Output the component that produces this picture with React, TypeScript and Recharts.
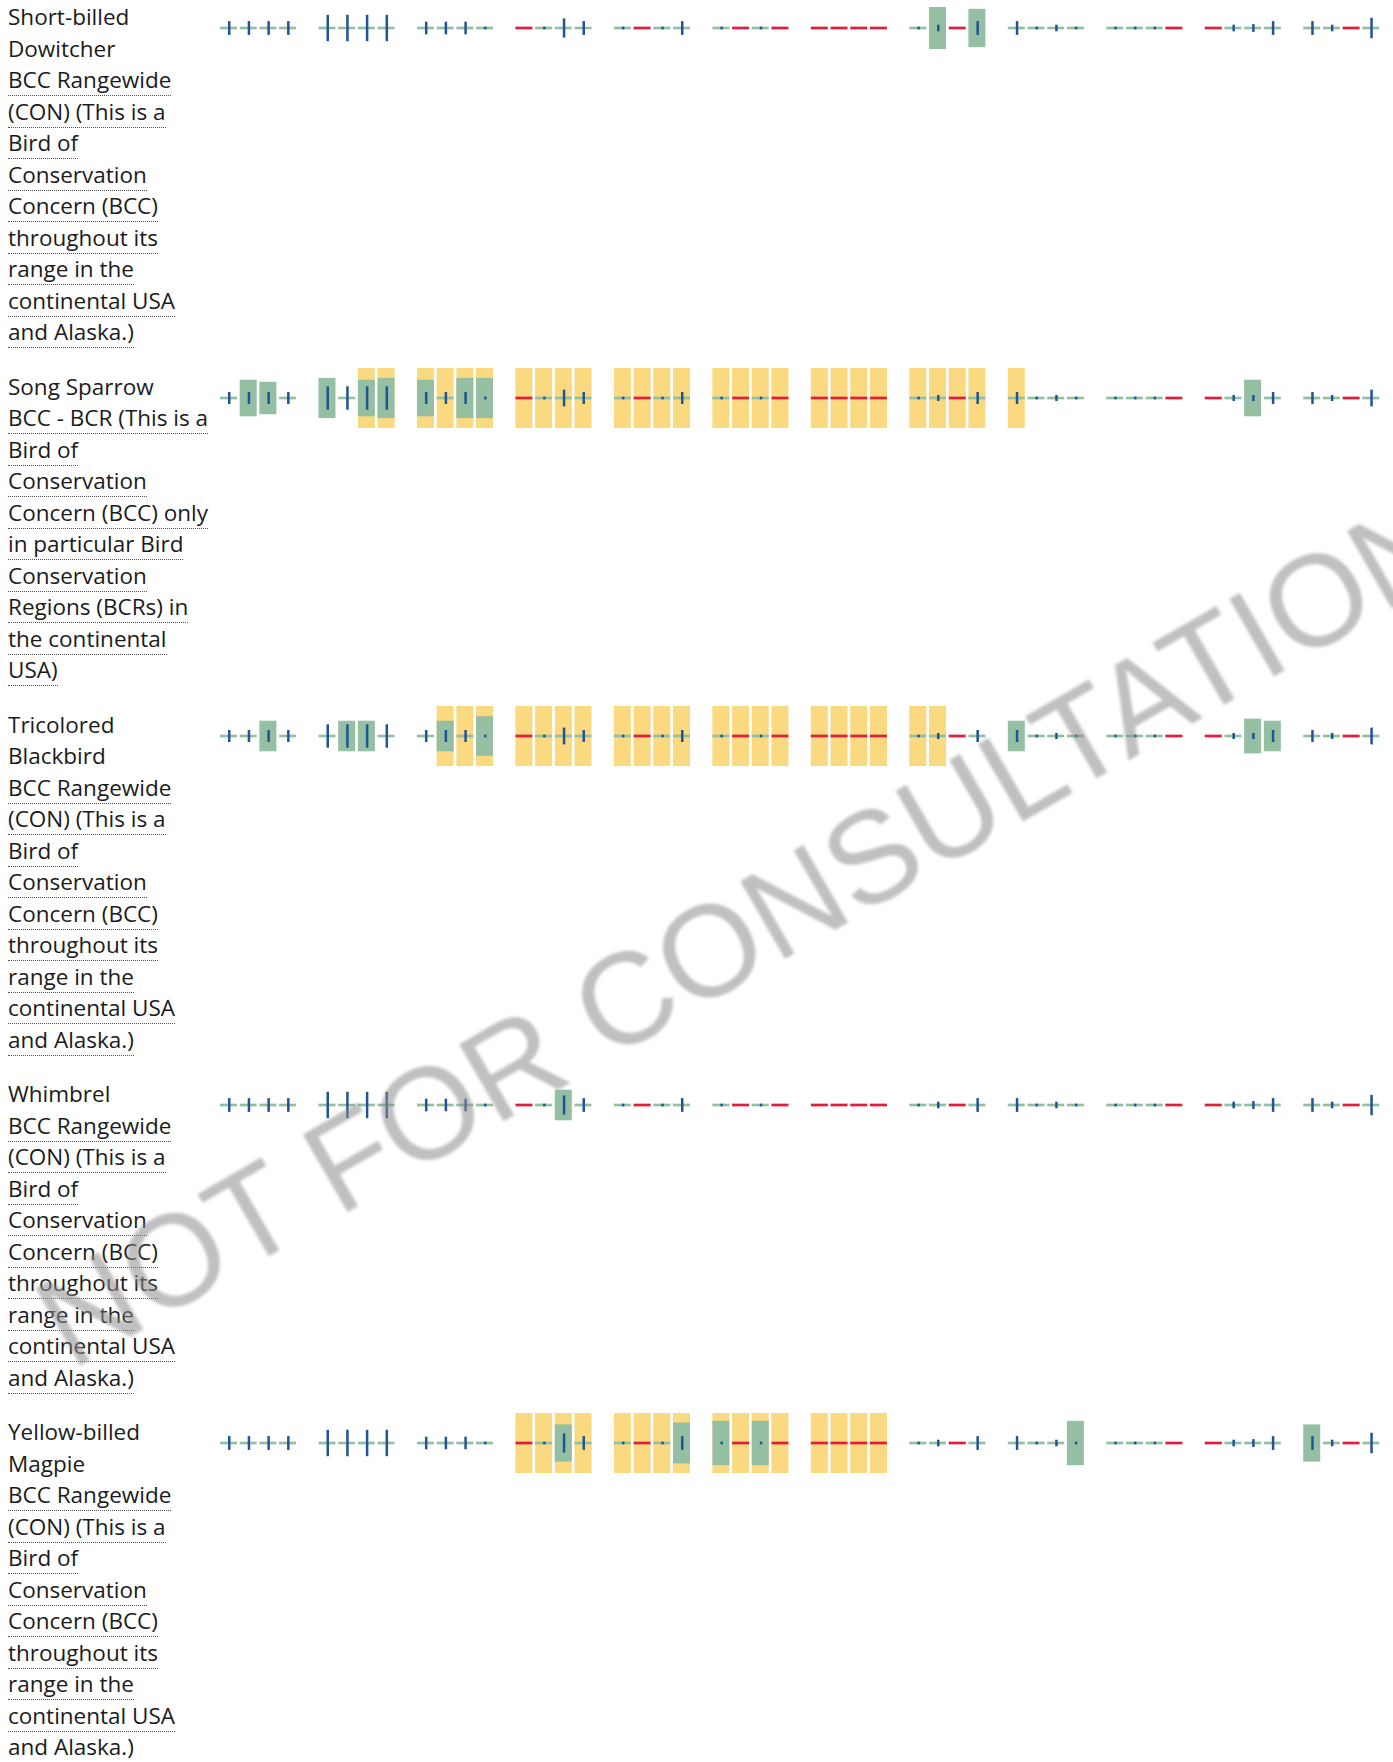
import React from "react";
import { BarChart, Bar, XAxis, YAxis } from "recharts";

const GREEN = "#94bfa2", YELLOW = "#fad980", BLUE = "#205493", RED = "#e31c3d";
const LINE = 0.45; // thickness of the "no presence" / "no data" strip, in chart units

const MONTHS = ["Jan", "Feb", "Mar", "Apr", "May", "Jun", "Jul", "Aug", "Sep", "Oct", "Nov", "Dec"];
const WEEKS = ["1", "2", "3", "4"];

const RANGEWIDE = ["BCC Rangewide", "(CON) (This is a", "Bird of", "Conservation", "Concern (BCC)", "throughout its", "range in the", "continental USA", "and Alaska.)"];
const BCR = ["BCC - BCR (This is a", "Bird of", "Conservation", "Concern (BCC) only", "in particular Bird", "Conservation", "Regions (BCRs) in", "the continental", "USA)"];

// probability of presence per week, null = no data
const dowitcherProb = [
  0, 0, 0, 0, 0, 0, 0, 0, 0, 0, 0, 0, null, 0, 0, 0,
  0, null, 0, 0, 0, null, 0, null, null, null, null, null, 0, 7.0, null, 6.4,
  0, 0, 0, 0, 0, 0, 0, null, null, 0, 0, 0, 0, 0, null, 0,
];
const dowitcherEffort = [
  2.3, 2.3, 2.3, 2.3, 4.4, 4.4, 4.4, 4.4, 2.1, 2.1, 2.1, 0.45, 0, 0.45, 3.2, 2.3,
  0.45, 0, 0.45, 2.3, 0.45, 0, 0.45, 0, 0, 0, 0, 0, 0.45, 1.1, 0, 2.3,
  2.3, 0.45, 1.1, 0.45, 0.45, 0.45, 0.45, 0, 0, 1.1, 1.3, 2.3, 2.3, 1.1, 0, 3.4,
];
const dowitcherBreeding = [
  0, 0, 0, 0, 0, 0, 0, 0, 0, 0, 0, 0, 0, 0, 0, 0,
  0, 0, 0, 0, 0, 0, 0, 0, 0, 0, 0, 0, 0, 0, 0, 0,
  0, 0, 0, 0, 0, 0, 0, 0, 0, 0, 0, 0, 0, 0, 0, 0,
];

const sparrowProb = [
  0, 6.1, 5.4, 0, 6.7, 0, 6.1, 6.7, 6.1, 0, 6.7, 6.7, null, 0, 0, 0,
  0, null, 0, 0, 0, null, 0, null, null, null, null, null, 0, 0, null, 0,
  0, 0, 0, 0, 0, 0, 0, null, null, 0, 6.1, 0, 0, 0, null, 0,
];
const sparrowEffort = [
  2.0, 2.0, 2.0, 2.0, 3.9, 3.9, 3.9, 3.9, 2.0, 2.0, 2.0, 0.45, 0, 0.45, 2.8, 2.0,
  0.45, 0, 0.45, 2.0, 0.45, 0, 0.45, 0, 0, 0, 0, 0, 0.45, 1.0, 0, 2.0,
  2.0, 0.45, 1.0, 0.45, 0.45, 0.45, 0.45, 0, 0, 1.0, 1.0, 2.0, 2.0, 1.0, 0, 2.8,
];
const sparrowBreeding = [
  0, 0, 0, 0, 0, 0, 1, 1, 1, 1, 1, 1, 1, 1, 1, 1,
  1, 1, 1, 1, 1, 1, 1, 1, 1, 1, 1, 1, 1, 1, 1, 1,
  1, 0, 0, 0, 0, 0, 0, 0, 0, 0, 0, 0, 0, 0, 0, 0,
];

const blackbirdProb = [
  0, 0, 5.1, 0, 0, 5.1, 5.1, 0, 0, 5.1, 0, 6.6, null, 0, 0, 0,
  0, null, 0, 0, 0, null, 0, null, null, null, null, null, 0, 0, null, 0,
  5.1, 0, 0, 0, 0, 0, 0, null, null, 0, 5.8, 5.1, 0, 0, null, 0,
];
const blackbirdEffort = [
  2.0, 2.0, 2.0, 2.0, 3.9, 3.9, 3.9, 3.9, 2.0, 2.0, 2.0, 0.45, 0, 0.45, 2.8, 2.0,
  0.45, 0, 0.45, 2.0, 0.45, 0, 0.45, 0, 0, 0, 0, 0, 0.45, 1.0, 0, 2.0,
  2.0, 0.45, 1.0, 0.45, 0.45, 0.45, 0.45, 0, 0, 1.0, 1.0, 2.0, 2.0, 1.0, 0, 2.8,
];
const blackbirdBreeding = [
  0, 0, 0, 0, 0, 0, 0, 0, 0, 1, 1, 1, 1, 1, 1, 1,
  1, 1, 1, 1, 1, 1, 1, 1, 1, 1, 1, 1, 1, 1, 0, 0,
  0, 0, 0, 0, 0, 0, 0, 0, 0, 0, 0, 0, 0, 0, 0, 0,
];

const whimbrelProb = [
  0, 0, 0, 0, 0, 0, 0, 0, 0, 0, 0, 0, null, 0, 5.1, 0,
  0, null, 0, 0, 0, null, 0, null, null, null, null, null, 0, 0, null, 0,
  0, 0, 0, 0, 0, 0, 0, null, null, 0, 0, 0, 0, 0, null, 0,
];
const whimbrelEffort = [
  2.3, 2.3, 2.3, 2.3, 4.4, 4.4, 4.4, 4.4, 2.1, 2.1, 2.1, 0.45, 0, 0.45, 3.2, 2.3,
  0.45, 0, 0.45, 2.3, 0.45, 0, 0.45, 0, 0, 0, 0, 0, 0.45, 1.1, 0, 2.3,
  2.3, 0.45, 1.1, 0.45, 0.45, 0.45, 0.45, 0, 0, 1.1, 1.3, 2.3, 2.3, 1.1, 0, 3.4,
];
const whimbrelBreeding = dowitcherBreeding;

const magpieProb = [
  0, 0, 0, 0, 0, 0, 0, 0, 0, 0, 0, 0, null, 0, 6.2, 0,
  0, null, 0, 6.8, 7.4, null, 7.4, null, null, null, null, null, 0, 0, null, 0,
  0, 0, 0, 7.4, 0, 0, 0, null, null, 0, 0, 0, 6.2, 0, null, 0,
];
const magpieEffort = [
  2.3, 2.3, 2.3, 2.3, 4.4, 4.4, 4.4, 4.4, 2.1, 2.1, 2.1, 0.45, 0, 0.45, 3.2, 2.3,
  0.45, 0, 0.45, 2.3, 0.45, 0, 0.45, 0, 0, 0, 0, 0, 0.45, 1.1, 0, 2.3,
  2.3, 0.45, 1.1, 0.45, 0.45, 0.45, 0.45, 0, 0, 1.1, 1.3, 2.3, 2.3, 1.1, 0, 3.4,
];
const magpieBreeding = [
  0, 0, 0, 0, 0, 0, 0, 0, 0, 0, 0, 0, 1, 1, 1, 1,
  1, 1, 1, 1, 1, 1, 1, 1, 1, 1, 1, 1, 0, 0, 0, 0,
  0, 0, 0, 0, 0, 0, 0, 0, 0, 0, 0, 0, 0, 0, 0, 0,
];

type Species = { name: string[]; status: string[]; prob: (number | null)[]; effort: number[]; breeding: number[] };

const SPECIES: Species[] = [
  { name: ["Short-billed", "Dowitcher"], status: RANGEWIDE, prob: dowitcherProb, effort: dowitcherEffort, breeding: dowitcherBreeding },
  { name: ["Song Sparrow"], status: BCR, prob: sparrowProb, effort: sparrowEffort, breeding: sparrowBreeding },
  { name: ["Tricolored", "Blackbird"], status: RANGEWIDE, prob: blackbirdProb, effort: blackbirdEffort, breeding: blackbirdBreeding },
  { name: ["Whimbrel"], status: RANGEWIDE, prob: whimbrelProb, effort: whimbrelEffort, breeding: whimbrelBreeding },
  { name: ["Yellow-billed", "Magpie"], status: RANGEWIDE, prob: magpieProb, effort: magpieEffort, breeding: magpieBreeding },
];

const half = (v: number) => [-v / 2, v / 2];

function buildRows(s: Species) {
  const rows: any[] = [];
  MONTHS.forEach((m, mi) => {
    WEEKS.forEach((w, wi) => {
      const i = mi * 4 + wi;
      const p = s.prob[i];
      const e = s.effort[i];
      rows.push({
        slot: m + w,
        breed: s.breeding[i] ? half(10) : null,
        pres: p === null ? null : half(Math.max(p, LINE)),
        nodata: p === null ? half(LINE) : null,
        effort: e > 0 ? half(e) : null,
      });
    });
    if (mi < MONTHS.length - 1) rows.push({ slot: "gap" + mi });
  });
  return rows;
}

function WeekChart({ s }: { s: Species }) {
  const data = buildRows(s);
  return (
    <BarChart width={1162} height={62} data={data} margin={{ top: 1, right: 0, bottom: 1, left: 0 }}>
      <XAxis xAxisId="b" dataKey="slot" hide />
      <XAxis xAxisId="p" dataKey="slot" hide />
      <XAxis xAxisId="n" dataKey="slot" hide />
      <XAxis xAxisId="e" dataKey="slot" hide />
      <YAxis type="number" domain={[-5, 5]} hide allowDataOverflow />
      <Bar xAxisId="b" dataKey="breed" fill={YELLOW} barSize={17} isAnimationActive={false} />
      <Bar xAxisId="p" dataKey="pres" fill={GREEN} barSize={17} isAnimationActive={false} />
      <Bar xAxisId="n" dataKey="nodata" fill={RED} barSize={17} isAnimationActive={false} />
      <Bar xAxisId="e" dataKey="effort" fill={BLUE} barSize={2.5} isAnimationActive={false} />
    </BarChart>
  );
}

export default function App() {
  return (
    <div style={{ position: "relative", width: "100%", height: 1762, overflow: "hidden", fontFamily: "'Open Sans', sans-serif", color: "#1b1b1b" }}>
      <style>{`body{margin:0}`}</style>
      <div style={{ position: "relative", top: -2, paddingLeft: 8 }}>
        {SPECIES.map((s, k) => (
          <div key={k} style={{ display: "flex", alignItems: "flex-start", paddingBottom: 23 }}>
            <div style={{ position: "relative", top: 3, width: 211, flex: "none", fontSize: 22.5, lineHeight: "31.5px", whiteSpace: "nowrap" }}>
              {s.name.map((t, i) => <div key={"n" + i}>{t}</div>)}
              {s.status.map((t, i) => (
                <div key={"s" + i}><span style={{ borderBottom: "1px dotted #555" }}>{t}</span></div>
              ))}
            </div>
            <div style={{ marginTop: -1, flex: "none" }}>
              <WeekChart s={s} />
            </div>
          </div>
        ))}
      </div>
      <div style={{
        position: "absolute", left: 745, top: 930, transform: "translate(-50%, -50%) rotate(-30deg)",
        fontFamily: "'Liberation Sans', Arial, sans-serif", fontSize: 130, whiteSpace: "nowrap",
        color: "rgba(140,140,140,0.55)", filter: "blur(1.8px)", pointerEvents: "none",
      }}>
        NOT FOR CONSULTATION
      </div>
    </div>
  );
}
